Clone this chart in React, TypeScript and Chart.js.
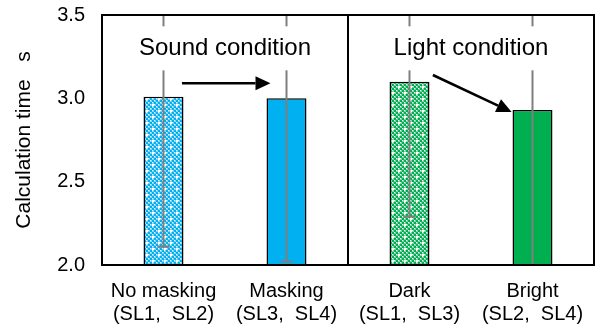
import React, { useEffect, useRef } from "react";
import { Chart, registerables } from "chart.js";

Chart.register(...registerables);

const categories: string[][] = [
  ["No masking", "(SL1,  SL2)"],
  ["Masking", "(SL3,  SL4)"],
  ["Dark", "(SL1,  SL3)"],
  ["Bright", "(SL2,  SL4)"],
];
const means = [3.01, 3.0, 3.1, 2.93];
const errors = [0.9, 0.98, 0.81, 1.0];
const yMin = 2.0;
const yMax = 3.5;
const yStep = 0.5;
const yTitle = "Calculation time   s";

const conditionLabels = ["Sound condition", "Light condition"];
const conditionX = [0.5, 2.5];
const conditionY = 3.3;
const arrowFrom = [
  [0.15, 3.09],
  [2.19, 3.14],
];
const arrowTo = [
  [0.87, 3.09],
  [2.83, 2.918],
];

const BLUE = "#00B0F0";
const GREEN = "#00B050";
const BLUE_LIGHT = "#7fd3f5";
const GREEN_LIGHT = "#7fd3a7";
const FONT = "'Liberation Sans', Arial, sans-serif";

function makePattern(color: string, light: string): CanvasPattern | string {
  const c = document.createElement("canvas");
  c.width = 12;
  c.height = 12;
  const g = c.getContext("2d");
  if (!g) return color;
  g.fillStyle = light;
  g.fillRect(0, 0, 12, 12);
  for (let by = 0; by < 6; by++) {
    for (let bx = 0; bx < 6; bx++) {
      if ((bx + by) % 2 === 0) {
        if ((bx === 1 && by === 1) || (bx === 4 && by === 4)) {
          g.fillStyle = "#ffffff";
        } else {
          g.fillStyle = color;
        }
        g.fillRect(bx * 2, by * 2, 2, 2);
      } else {
        g.fillStyle = "#ffffff";
        g.fillRect(bx * 2, by * 2, 1, 1);
      }
    }
  }
  const p = g.createPattern(c, "repeat");
  return p || color;
}

export default function App() {
  const ref = useRef<HTMLCanvasElement | null>(null);

  useEffect(() => {
    document.body.style.margin = "0";
    const canvas = ref.current;
    if (!canvas) return;

    const overlay = {
      id: "overlay",
      afterDatasetsDraw(chart: any) {
        const ctx = chart.ctx as CanvasRenderingContext2D;
        const area = chart.chartArea;
        const xs = chart.scales.x;
        const ys = chart.scales.y;

        // error bars
        ctx.save();
        ctx.beginPath();
        ctx.rect(area.left, area.top, area.right - area.left, area.bottom - area.top);
        ctx.clip();
        ctx.strokeStyle = "#7f7f7f";
        ctx.lineWidth = 2;
        means.forEach((m, i) => {
          const x = xs.getPixelForValue(i);
          const lo = m - errors[i];
          const hi = m + errors[i];
          const yLo = ys.getPixelForValue(Math.max(lo, yMin - 0.1));
          const yHi = ys.getPixelForValue(Math.min(hi, yMax + 0.1));
          ctx.beginPath();
          ctx.moveTo(x, yLo);
          ctx.lineTo(x, yHi);
          ctx.stroke();
          if (lo >= yMin) {
            const y = ys.getPixelForValue(lo);
            ctx.beginPath();
            ctx.moveTo(x - 6, y);
            ctx.lineTo(x + 6, y);
            ctx.stroke();
          }
          if (hi <= yMax) {
            const y = ys.getPixelForValue(hi);
            ctx.beginPath();
            ctx.moveTo(x - 6, y);
            ctx.lineTo(x + 6, y);
            ctx.stroke();
          }
        });
        ctx.restore();

        // frame and divider
        ctx.save();
        ctx.strokeStyle = "#000";
        ctx.lineWidth = 2;
        ctx.strokeRect(area.left, area.top, area.right - area.left, area.bottom - area.top);
        const xd = (xs.getPixelForValue(1) + xs.getPixelForValue(2)) / 2;
        ctx.beginPath();
        ctx.moveTo(xd, area.top);
        ctx.lineTo(xd, area.bottom);
        ctx.stroke();
        ctx.restore();

        // condition labels
        ctx.save();
        ctx.font = `24px ${FONT}`;
        ctx.textAlign = "center";
        ctx.textBaseline = "middle";
        conditionLabels.forEach((t, i) => {
          const cx = xs.getPixelForValue(conditionX[i]);
          const cy = ys.getPixelForValue(conditionY);
          const w = ctx.measureText(t).width;
          ctx.fillStyle = "#fff";
          ctx.fillRect(cx - w / 2 - 7, cy - 22, w + 14, 44);
          ctx.fillStyle = "#000";
          ctx.fillText(t, cx, cy);
        });
        ctx.restore();

        // arrows
        ctx.save();
        ctx.strokeStyle = "#000";
        ctx.fillStyle = "#000";
        ctx.lineWidth = 2.5;
        arrowFrom.forEach((f, i) => {
          const x1 = xs.getPixelForValue(f[0]);
          const y1 = ys.getPixelForValue(f[1]);
          const x2 = xs.getPixelForValue(arrowTo[i][0]);
          const y2 = ys.getPixelForValue(arrowTo[i][1]);
          const ang = Math.atan2(y2 - y1, x2 - x1);
          const hl = 15;
          const hw = 7;
          const bx = x2 - hl * Math.cos(ang);
          const by = y2 - hl * Math.sin(ang);
          ctx.beginPath();
          ctx.moveTo(x1, y1);
          ctx.lineTo(bx, by);
          ctx.stroke();
          ctx.beginPath();
          ctx.moveTo(x2, y2);
          ctx.lineTo(bx + hw * Math.sin(ang), by - hw * Math.cos(ang));
          ctx.lineTo(bx - hw * Math.sin(ang), by + hw * Math.cos(ang));
          ctx.closePath();
          ctx.fill();
        });
        ctx.restore();
      },
    };

    const chart = new Chart(canvas, {
      type: "bar",
      data: {
        labels: categories,
        datasets: [
          {
            data: means,
            backgroundColor: [
              makePattern(BLUE, BLUE_LIGHT),
              BLUE,
              makePattern(GREEN, GREEN_LIGHT),
              GREEN,
            ] as any,
            borderColor: "#000",
            borderWidth: 1.5,
            borderSkipped: false,
            categoryPercentage: 1,
            barPercentage: 0.325,
          },
        ],
      },
      options: {
        animation: false,
        responsive: false,
        events: [],
        layout: { padding: { top: 15, right: 10, left: 0, bottom: 0 } },
        plugins: {
          legend: { display: false },
          tooltip: { enabled: false },
        },
        scales: {
          x: {
            grid: { display: false, drawTicks: false },
            border: { display: false },
            ticks: {
              color: "#000",
              font: { family: FONT, size: 20, lineHeight: 1.15 },
              padding: 15,
              maxRotation: 0,
              autoSkip: false,
            },
            afterFit(scale: any) {
              scale.height = 66;
              scale.paddingTop = 0;
              scale.paddingBottom = 0;
            },
          },
          y: {
            min: yMin,
            max: yMax,
            grid: { display: false, drawTicks: false },
            border: { display: false },
            ticks: {
              stepSize: yStep,
              color: "#000",
              font: { family: FONT, size: 20 },
              padding: 17,
              callback: (v: any) => Number(v).toFixed(1),
            },
            title: {
              display: true,
              text: yTitle,
              color: "#000",
              font: { family: FONT, size: 21 },
              padding: { top: 12, bottom: 0 },
            },
            afterFit(scale: any) {
              scale.width = 102;
              scale.paddingTop = 0;
              scale.paddingBottom = 0;
            },
          },
        },
      },
      plugins: [overlay],
    });

    return () => chart.destroy();
  }, []);

  return (
    <div style={{ width: 604, height: 331 }}>
      <canvas ref={ref} width={604} height={331} style={{ display: "block" }} />
    </div>
  );
}
